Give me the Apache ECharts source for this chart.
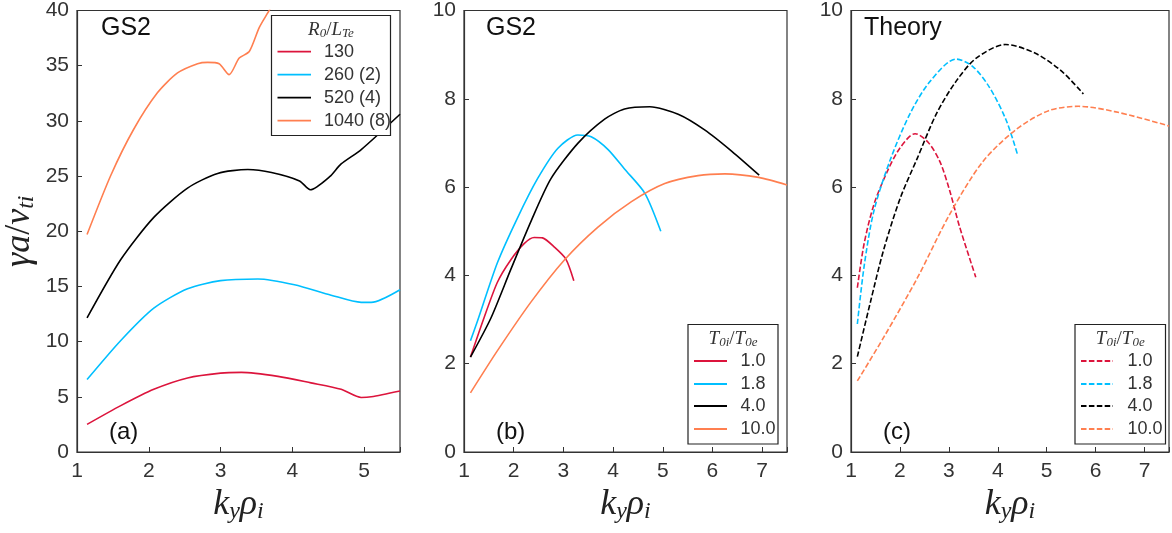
<!DOCTYPE html>
<html><head><meta charset="utf-8">
<script src="https://cdn.jsdelivr.net/npm/echarts@6/dist/echarts.min.js"></script>
<style>html,body{margin:0;padding:0;background:#fff}#c{width:1172px;height:533px}</style>
</head><body><div id="c"></div>
<script>
// ---- Data ----
const xTicks = [1, 2, 3, 4, 5, 6, 7];
const namesA = ['130', '260 (2)', '520 (4)', '1040 (8)'];
const namesB = ['1.0', '1.8', '4.0', '10.0'];
const colors = ['#dc143c', '#00bfff', '#000000', '#ff7f50'];

// Panel (a) GS2, varying R0/LTe
const a130 = [[1.14,2.5],[1.61,4.2],[2.07,5.68],[2.54,6.71],[3.0,7.15],[3.29,7.21],[3.8,6.85],[4.26,6.26],[4.68,5.68],[4.96,4.94],[5.1,5.0],[5.5,5.53]];
const a260 = [[1.14,6.56],[1.61,10.1],[2.07,13.03],[2.54,14.79],[3.0,15.53],[3.52,15.68],[4.03,15.15],[4.54,14.21],[4.96,13.56],[5.1,13.56],[5.5,14.7]];
const a520 = [[1.14,12.15],[1.61,17.44],[2.07,21.26],[2.54,23.91],[2.96,25.24],[3.38,25.59],[3.71,25.32],[4.1,24.56],[4.25,23.76],[4.52,24.94],[4.68,26.1],[4.96,27.4],[5.5,30.6]];
const a1040 = [[1.14,19.7],[1.47,25.05],[1.79,29.24],[2.12,32.54],[2.4,34.34],[2.68,35.18],[2.82,35.3],[2.98,35.18],[3.12,34.19],[3.26,35.69],[3.4,36.28],[3.54,38.47],[3.68,40.03],[3.75,40.9]];

// Panel (b) GS2, varying T0i/T0e
const b10 = [[1.13,2.15],[1.4,3.03],[1.67,3.84],[1.94,4.35],[2.21,4.72],[2.41,4.86],[2.58,4.85],[2.82,4.64],[3.05,4.37],[3.21,3.88]];
const b18 = [[1.13,2.52],[1.27,2.96],[1.67,4.28],[2.08,5.31],[2.48,6.19],[2.89,6.88],[3.29,7.18],[3.56,7.14],[3.9,6.85],[4.23,6.41],[4.64,5.86],[4.96,5.0]];
const b40 = [[1.13,2.15],[1.54,3.03],[1.94,4.13],[2.35,5.23],[2.75,6.19],[3.29,6.99],[3.83,7.54],[4.23,7.77],[4.74,7.82],[5.31,7.65],[5.85,7.29],[6.39,6.81],[6.94,6.27]];
const b100 = [[1.13,1.34],[1.67,2.29],[2.35,3.4],[3.02,4.35],[3.69,5.09],[4.37,5.67],[5.04,6.08],[5.71,6.26],[6.25,6.3],[6.93,6.22],[7.5,6.05]];

// Panel (c) Theory
const c10 = [[1.13,3.72],[1.27,4.73],[1.47,5.61],[1.74,6.35],[2.01,6.9],[2.31,7.21],[2.58,7.01],[2.82,6.57],[3.02,5.91],[3.22,5.1],[3.55,3.96]];
const c18 = [[1.13,2.9],[1.27,4.22],[1.47,5.47],[1.81,6.64],[2.21,7.67],[2.62,8.4],[3.15,8.9],[3.49,8.73],[3.83,8.26],[4.17,7.52],[4.4,6.75]];
const c40 = [[1.13,2.16],[1.4,3.41],[1.67,4.59],[2.01,5.76],[2.35,6.64],[2.75,7.67],[3.15,8.4],[3.56,8.92],[4.16,9.23],[4.77,9.03],[5.31,8.62],[5.75,8.11]];
const c100 = [[1.13,1.61],[1.67,2.6],[2.35,3.93],[3.02,5.39],[3.69,6.57],[4.37,7.3],[5.04,7.73],[5.65,7.83],[6.39,7.71],[7.43,7.41],[7.5,7.38]];

const seriesA = [a130, a260, a520, a1040];
const seriesB = [b10, b18, b40, b100];
const seriesC = [c10, c18, c40, c100];

// ---- Chart ----
const axisCol = '#333';
const mathFont = 'Liberation Serif';
const sansFont = 'Liberation Sans';
const DASH = [5.5, 2.4];
const grids = [
  {left: 77, top: 7, width: 323, height: 445},
  {left: 464, top: 7, width: 323, height: 445},
  {left: 851, top: 7, width: 322, height: 445}
];
const xRanges = [[1, 5.5], [1, 7.5], [1, 7.5]];
const yRanges = [[0, 40, 5], [0, 10, 2], [0, 10, 2]];
const richMath = {
  i: {fontFamily: mathFont, fontStyle: 'italic', fontSize: 36, color: '#222'},
  n: {fontFamily: mathFont, fontSize: 36, color: '#222'},
  s: {fontFamily: mathFont, fontStyle: 'italic', fontSize: 24, color: '#222', padding: [14, 0, 0, 0]}
};
const xAxes = grids.map((g, k) => ({
  type: 'value', gridIndex: k, min: xRanges[k][0], max: xRanges[k][1], interval: 1,
  name: '{i|k}{s|y}{i|ρ}{s|i}', nameLocation: 'middle', nameGap: 28,
  nameTextStyle: {rich: richMath},
  axisLine: {show: true, lineStyle: {color: axisCol, width: 1.2}},
  axisTick: {show: true, inside: true, length: 5, lineStyle: {color: axisCol}},
  axisLabel: {fontFamily: sansFont, fontSize: 21, color: '#333', margin: 9,
    formatter: v => (Number.isInteger(v) && xTicks.includes(v)) ? String(v) : ''},
  splitLine: {show: false}
}));
const yAxes = grids.map((g, k) => ({
  type: 'value', gridIndex: k, min: yRanges[k][0], max: yRanges[k][1], interval: yRanges[k][2],
  name: k === 0 ? '{i|γa}{n|/}{i|v}{s|ti}' : '', nameLocation: 'middle', nameGap: 38, nameRotate: 90,
  nameTextStyle: {rich: richMath},
  axisLine: {show: true, lineStyle: {color: axisCol, width: 1.2}},
  axisTick: {show: true, inside: true, length: 5, lineStyle: {color: axisCol}},
  axisLabel: {fontFamily: sansFont, fontSize: 21, color: '#333', margin: 8},
  splitLine: {show: false}
}));

const series = [];
function addSeries(list, names, gi, dashed, smooth) {
  list.forEach((d, j) => {
    series.push({
      type: 'line', name: names[j], xAxisIndex: gi, yAxisIndex: gi,
      data: d, symbol: 'none', smooth: smooth, clip: true,
      lineStyle: {color: colors[j], width: 1.6, type: dashed ? DASH : 'solid'}
    });
  });
}
addSeries(seriesA, namesA, 0, false, 0.25);
addSeries(seriesB, namesB, 1, false, 0.25);
addSeries(seriesC, namesB, 2, true, 0.3);

// Legend drawn as graphic (box, title, sample lines, labels)
function legendGraphic(box, lineX0, lineX1, textX, ys, names, dashed, title) {
  const els = [];
  els.push({type: 'rect', z: 50, shape: {x: box[0], y: box[1], width: box[2], height: box[3]},
    style: {fill: '#fff', stroke: '#222', lineWidth: 1.2}});
  els.push({type: 'text', z: 60, x: box[0] + box[2] / 2, y: title.y,
    style: {text: `{i|${title.t1}}{s|${title.s1}}{n|/}{i|${title.t2}}{s|${title.s2}}`,
      align: 'center', verticalAlign: 'middle',
      rich: {
        i: {fontFamily: mathFont, fontStyle: 'italic', fontSize: 19, fill: '#333'},
        n: {fontFamily: mathFont, fontSize: 19, fill: '#333'},
        s: {fontFamily: mathFont, fontStyle: 'italic', fontSize: 13, fill: '#333', padding: [8, 0, 0, 0]}
      }}});
  names.forEach((n, j) => {
    els.push({type: 'line', z: 60, shape: {x1: lineX0, y1: ys[j], x2: lineX1, y2: ys[j]},
      style: {stroke: colors[j], lineWidth: 1.8, lineDash: dashed ? DASH : null}});
    els.push({type: 'text', z: 60, x: textX, y: ys[j],
      style: {text: n, fontFamily: sansFont, fontSize: 18, fill: '#333', verticalAlign: 'middle'}});
  });
  return els;
}
const label = (x, y, t, size) => ({type: 'text', left: x, top: y, z: 100,
  style: {text: t, fontFamily: sansFont, fontSize: size, fill: '#111'}});

const graphics = [].concat(
  legendGraphic([271.5, 15.5, 119, 120], 277.5, 311, 324, [51.7, 74.7, 97.7, 120.7], namesA, false,
    {y: 30, t1: 'R', s1: '0', t2: 'L', s2: 'Te'}),
  legendGraphic([688, 324.5, 90, 119.5], 694, 727, 740.5, [361, 384, 406, 429], namesB, false,
    {y: 339, t1: 'T', s1: '0i', t2: 'T', s2: '0e'}),
  legendGraphic([1075, 324.5, 90.5, 119.5], 1081, 1113, 1127.5, [361, 384, 406, 429], namesB, true,
    {y: 339, t1: 'T', s1: '0i', t2: 'T', s2: '0e'}),
  [
    label(101, 16, 'GS2', 25),
    label(486, 16, 'GS2', 25),
    label(864, 16, 'Theory', 25),
    label(109, 420, '(a)', 24),
    label(496, 420, '(b)', 24),
    label(883, 420, '(c)', 24)
  ]
);

const option = {
  animation: false,
  backgroundColor: '#fff',
  grid: grids.map(g => Object.assign({show: true, borderColor: axisCol, borderWidth: 1.2, backgroundColor: 'transparent'}, g)),
  xAxis: xAxes,
  yAxis: yAxes,
  series: series,
  graphic: {elements: graphics}
};
const chart = echarts.init(document.getElementById('c'), null, {renderer: 'canvas'});
chart.setOption(option);
</script>
</body></html>
